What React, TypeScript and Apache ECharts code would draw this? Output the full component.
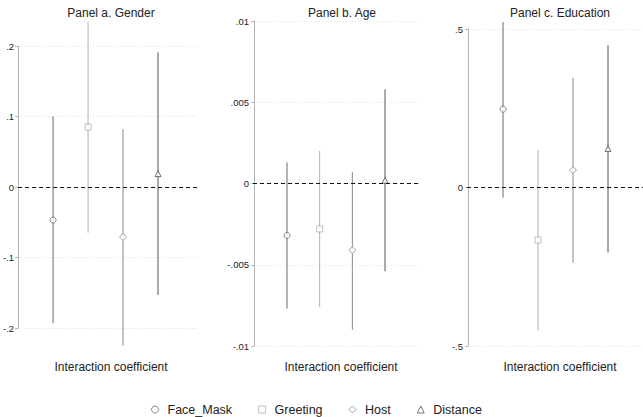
import React, { useEffect, useRef } from "react";
import * as echarts from "echarts";

const variables = ["Face_Mask", "Greeting", "Host", "Distance"];
const symbols = ["circle", "rect", "diamond", "triangle"];
const colors = ["#6a6a6a", "#b0b0b0", "#8a8a8a", "#555555"];

const panelTitles = ["Panel a. Gender", "Panel b. Age", "Panel c. Education"];
const axisTitle = "Interaction coefficient";

// estimates per panel: [point, lower, upper] for each variable
const genderEst = [-0.047, 0.085, -0.071, 0.019];
const genderLo = [-0.193, -0.065, -0.225, -0.153];
const genderHi = [0.1, 0.234, 0.082, 0.191];

const ageEst = [-0.0032, -0.0028, -0.0041, 0.0002];
const ageLo = [-0.0077, -0.0076, -0.009, -0.0054];
const ageHi = [0.0013, 0.002, 0.0007, 0.0058];

const eduEst = [0.247, -0.166, 0.055, 0.123];
const eduLo = [-0.032, -0.45, -0.237, -0.205];
const eduHi = [0.522, 0.118, 0.346, 0.449];

const yTicks = [
  { min: -0.2, max: 0.2, interval: 0.1 },
  { min: -0.01, max: 0.01, interval: 0.005 },
  { min: -0.5, max: 0.5, interval: 0.5 },
];

const FONT = "'Liberation Sans', Arial, Helvetica, sans-serif";

function fmt(v: number): string {
  const r = Number(v.toFixed(6));
  if (r === 0) return "0";
  return String(r).replace("0.", ".");
}

export default function App() {
  const ref = useRef<HTMLDivElement>(null);
  useEffect(() => {
    if (!ref.current) return;
    const chart = echarts.init(ref.current, null, { renderer: "svg" });
    const grids = [
      { left: 18, top: 46, width: 180, height: 282 },
      { left: 253, top: 21, width: 167, height: 325 },
      { left: 467, top: 29, width: 176, height: 317 },
    ];
    const xRanges = [
      { min: 0, max: 180 / 35 },
      { min: -0.04, max: 5.07 },
      { min: -0.03, max: 5.0 },
    ];
    const panels = [
      [genderEst, genderLo, genderHi],
      [ageEst, ageLo, ageHi],
      [eduEst, eduLo, eduHi],
    ];
    const series: any[] = [];
    panels.forEach((p, pi) => {
      const [est, lo, hi] = p;
      series.push({
        type: "custom",
        name: "ci" + pi,
        xAxisIndex: pi,
        yAxisIndex: pi,
        silent: true,
        clip: false,
        z: 2,
        data: variables.map((_, k) => [k + 1, lo[k], hi[k], k]),
        renderItem: (params: any, api: any) => {
          const x = api.value(0);
          const a = api.coord([x, api.value(1)]);
          const b = api.coord([x, api.value(2)]);
          return {
            type: "line",
            shape: { x1: a[0], y1: a[1], x2: b[0], y2: b[1] },
            style: { stroke: colors[api.value(3)], lineWidth: 1 },
          };
        },
        markLine: {
          silent: true,
          symbol: ["none", "none"],
          label: { show: false },
          lineStyle: { type: [4, 3], color: "#111", width: 1 },
          data: [{ yAxis: 0 }],
        },
      });
      variables.forEach((v, k) => {
        series.push({
          type: "scatter",
          name: v,
          xAxisIndex: pi,
          yAxisIndex: pi,
          symbol: symbols[k],
          symbolSize: k === 2 ? 7 : 6,
          z: 3,
          itemStyle: { color: "#ffffff", borderColor: colors[k], borderWidth: 1 },
          data: [[k + 1, est[k]]],
        });
      });
    });

    chart.setOption({
      animation: false,
      textStyle: { fontFamily: FONT },
      title: [
        ...panelTitles.map((t, i) => ({
          text: t,
          left: [106, 337, 555][i],
          top: 2,
          textAlign: "center",
          textStyle: { fontSize: 12, fontWeight: "normal", color: "#222", fontFamily: FONT },
        })),
        ...[106, 336, 555].map((c) => ({
          text: axisTitle,
          left: c,
          top: 356,
          textAlign: "center",
          textStyle: { fontSize: 12, fontWeight: "normal", color: "#222", fontFamily: FONT },
        })),
      ],
      legend: {
        left: 151,
        top: 403,
        padding: 0,
        itemWidth: 7,
        itemHeight: 7,
        itemGap: 26,
        textStyle: { fontSize: 12.5, color: "#222", fontFamily: FONT, padding: [0, 0, 0, 4] },
        data: variables.map((v, k) => ({
          name: v,
          icon: symbols[k],
          itemStyle: { color: "#ffffff", borderColor: colors[k], borderWidth: 1 },
        })),
      },
      grid: grids,
      xAxis: xRanges.map((r, i) => ({
        type: "value",
        gridIndex: i,
        min: r.min,
        max: r.max,
        show: false,
        splitLine: { show: false },
      })),
      yAxis: yTicks.map((t, i) => ({
        type: "value",
        gridIndex: i,
        min: t.min,
        max: t.max,
        interval: t.interval,
        axisLine: { show: true, lineStyle: { color: "#b5b5b5", width: 1 } },
        axisTick: { show: true, length: 3, lineStyle: { color: "#b5b5b5" } },
        axisLabel: {
          fontSize: 9.5,
          color: "#222",
          margin: 4,
          fontFamily: FONT,
          formatter: (v: number) => fmt(v),
        },
        splitLine: {
          show: true,
          lineStyle: { type: [1, 2], color: "#e2e2e2", width: 1 },
        },
      })),
      series,
    });
    return () => chart.dispose();
  }, []);
  return (
    <div
      ref={ref}
      style={{ position: "absolute", left: 0, top: 0, width: 643, height: 417, background: "#fff" }}
    />
  );
}
